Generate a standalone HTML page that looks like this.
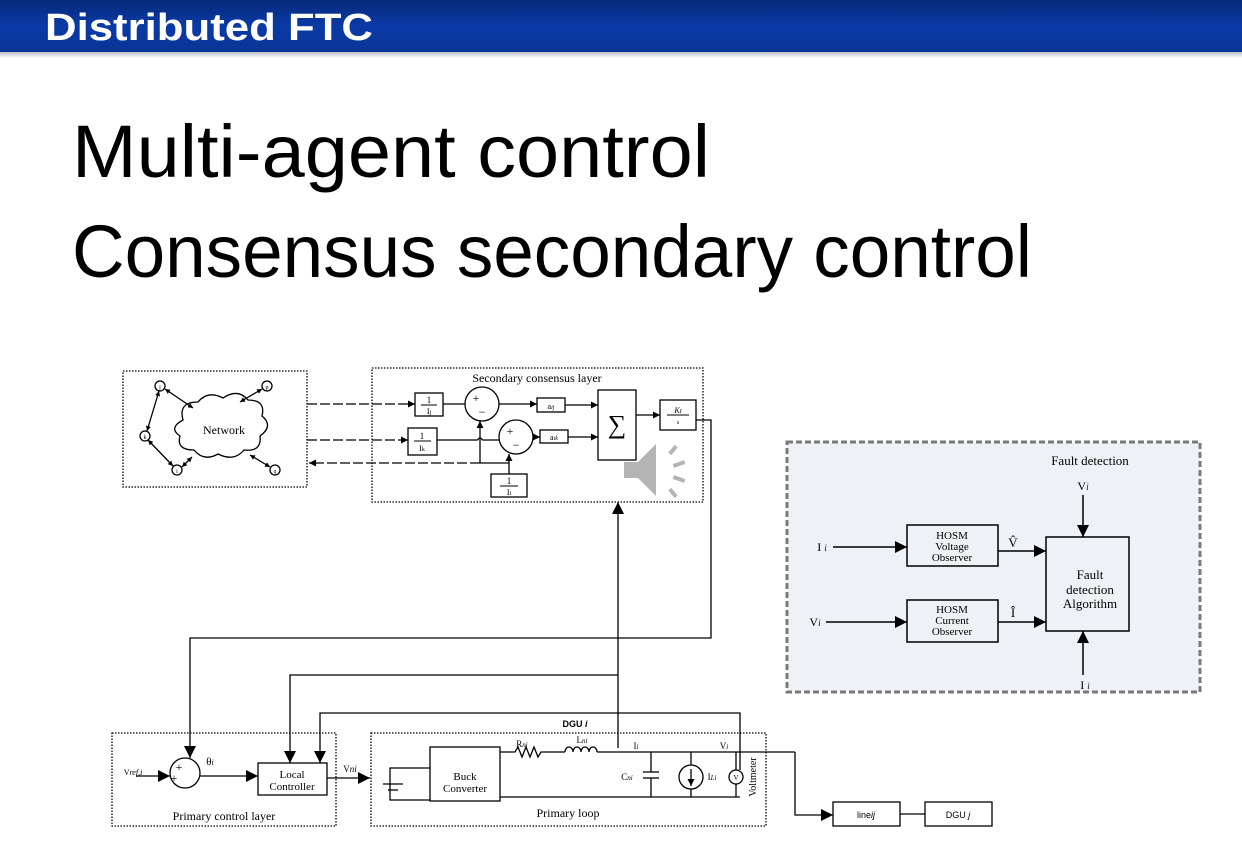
<!DOCTYPE html>
<html><head><meta charset="utf-8"><style>
html,body{margin:0;padding:0;background:#fff;}
svg{display:block;}
</style></head><body>
<svg width="1242" height="856" viewBox="0 0 1242 856" xmlns="http://www.w3.org/2000/svg" font-family="Liberation Serif, serif">
<defs>
<linearGradient id="bar" x1="0" y1="0" x2="0" y2="1">
<stop offset="0" stop-color="#062a7a"/><stop offset="0.5" stop-color="#0a3aa6"/><stop offset="1" stop-color="#0a3596"/>
</linearGradient>
<linearGradient id="sh" x1="0" y1="0" x2="0" y2="1">
<stop offset="0" stop-color="#b8bcc4"/><stop offset="1" stop-color="#ffffff"/>
</linearGradient>
<marker id="a" viewBox="0 0 10 10" refX="10" refY="5" markerWidth="7" markerHeight="7" orient="auto" markerUnits="userSpaceOnUse"><path d="M0,0 L10,5 L0,10 z" fill="#000"/></marker>
<marker id="b" viewBox="0 0 10 10" refX="10" refY="5" markerWidth="14" markerHeight="12" orient="auto" markerUnits="userSpaceOnUse"><path d="M0,0 L10,5 L0,10 z" fill="#000"/></marker>
<marker id="s" viewBox="0 0 10 10" refX="10" refY="5" markerWidth="5" markerHeight="5" orient="auto-start-reverse" markerUnits="userSpaceOnUse"><path d="M0,0 L10,5 L0,10 z" fill="#000"/></marker>
</defs>
<rect x="0" y="0" width="1242" height="52" fill="url(#bar)"/>
<rect x="0" y="52" width="1242" height="6" fill="url(#sh)"/>
<text x="45" y="40" font-family="Liberation Sans, sans-serif" font-weight="bold" font-size="38" fill="#fff" textLength="328" lengthAdjust="spacingAndGlyphs">Distributed FTC</text>
<g font-family="Liberation Sans, sans-serif" font-size="74" fill="#000">
<text x="72" y="177" textLength="638" lengthAdjust="spacingAndGlyphs">Multi-agent control</text>
<text x="72" y="277" textLength="960" lengthAdjust="spacingAndGlyphs">Consensus secondary control</text>
</g>

<g fill="none" stroke="#000" stroke-width="1.3">
<!-- network box -->
<rect x="123" y="371" width="184" height="116" stroke-dasharray="1.5,1.5"/>
<path d="M183,420 q-5,-18 15,-18 q10,-12 25,-4 q15,-10 25,2 q18,0 14,16 q12,10 -2,20 q2,16 -16,14 q-10,12 -26,4 q-14,8 -24,-4 q-18,0 -14,-14 q-12,-8 3,-16z"/>
<circle cx="160" cy="386" r="5"/><circle cx="267" cy="386" r="5"/><circle cx="145" cy="436" r="5"/><circle cx="177" cy="470" r="5"/><circle cx="275" cy="470" r="5"/>
<line x1="159" y1="391" x2="147" y2="431" marker-start="url(#s)" marker-end="url(#s)"/>
<line x1="148" y1="440" x2="173" y2="466" marker-start="url(#s)" marker-end="url(#s)"/>
<line x1="165" y1="389" x2="193" y2="408" marker-start="url(#s)" marker-end="url(#s)"/>
<line x1="262" y1="389" x2="240" y2="402" marker-start="url(#s)" marker-end="url(#s)"/>
<line x1="182" y1="467" x2="192" y2="457" marker-start="url(#s)" marker-end="url(#s)"/>
<line x1="250" y1="455" x2="270" y2="467" marker-start="url(#s)" marker-end="url(#s)"/>
<!-- secondary box -->
<rect x="372" y="368" width="331" height="134" stroke-dasharray="1.5,1.5"/>
<line x1="307" y1="404" x2="415" y2="404" stroke-dasharray="10,3" marker-end="url(#a)"/>
<line x1="307" y1="440" x2="408" y2="440" stroke-dasharray="10,3" marker-end="url(#a)"/>
<line x1="480" y1="463" x2="309" y2="463" stroke-dasharray="10,3" marker-end="url(#a)"/>
<rect x="415" y="393" width="28" height="23"/>
<rect x="408" y="428" width="29" height="27"/>
<rect x="491" y="474" width="36" height="23"/>
<circle cx="482" cy="404" r="17"/><circle cx="516" cy="437" r="17"/>
<rect x="537" y="398" width="28" height="14"/><rect x="540" y="430" width="28" height="13"/>
<rect x="598" y="390" width="38" height="70"/>
<rect x="660" y="400" width="36" height="30"/>
<line x1="443" y1="404" x2="465" y2="404"/>
<line x1="437" y1="440" x2="478" y2="440"/><path d="M478,440 a2,2 0 0 1 4,0"/><line x1="482" y1="440" x2="499" y2="440"/>
<line x1="480" y1="463" x2="480" y2="421" marker-end="url(#a)"/>
<line x1="509" y1="474" x2="509" y2="454" marker-end="url(#a)"/>
<line x1="480" y1="463" x2="509" y2="463"/>
<line x1="499" y1="404" x2="537" y2="404" marker-end="url(#a)"/>
<line x1="533" y1="437" x2="540" y2="437" marker-end="url(#a)"/>
<line x1="565" y1="405" x2="598" y2="405" marker-end="url(#a)"/>
<line x1="568" y1="437" x2="598" y2="437" marker-end="url(#a)"/>
<line x1="636" y1="415" x2="660" y2="415" marker-end="url(#a)"/>
<polyline points="696,420 711,420 711,638 190,638 190,758" marker-end="url(#b)"/>
<line x1="618" y1="748" x2="618" y2="502" marker-end="url(#b)"/>
<polyline points="618,675 290,675 290,763" marker-end="url(#b)"/>
<polyline points="740,770 740,713 320,713 320,763" marker-end="url(#b)"/>
<!-- primary control -->
<rect x="112" y="733" width="224" height="93" stroke-dasharray="1.5,1.5"/>
<circle cx="185" cy="773" r="15"/>
<line x1="136" y1="776" x2="170" y2="776" marker-end="url(#b)"/>
<line x1="200" y1="776" x2="258" y2="776" marker-end="url(#b)"/>
<rect x="258" y="763" width="69" height="32"/>
<line x1="327" y1="778" x2="370" y2="778" marker-end="url(#b)"/>
<!-- primary loop -->
<rect x="371" y="733" width="395" height="93" stroke-dasharray="1.5,1.5"/>
<polyline points="430,768 390,768 390,800 430,800"/>
<line x1="383" y1="784" x2="403" y2="784"/><line x1="388" y1="790" x2="398" y2="790"/>
<rect x="430" y="747" width="70" height="54"/>
<polyline points="500,752 515,752 518,747 522,757 526,747 530,757 534,747 538,757 541,752 565,752"/>
<path d="M565,752 a4,5 0 0 1 8,0 a4,5 0 0 1 8,0 a4,5 0 0 1 8,0 a4,5 0 0 1 8,0"/>
<line x1="597" y1="752" x2="795" y2="752"/>
<line x1="500" y1="797" x2="740" y2="797"/>
<line x1="651" y1="752" x2="651" y2="772"/><line x1="643" y1="772" x2="659" y2="772"/><line x1="643" y1="778" x2="659" y2="778"/><line x1="651" y1="778" x2="651" y2="797"/>
<line x1="691" y1="752" x2="691" y2="765"/><circle cx="691" cy="777" r="12"/><line x1="691" y1="789" x2="691" y2="797"/>
<line x1="691" y1="769" x2="691" y2="786" marker-end="url(#a)"/>
<line x1="736" y1="752" x2="736" y2="770"/><circle cx="736" cy="777" r="7"/><line x1="736" y1="784" x2="736" y2="797"/>
<polyline points="795,752 795,815 833,815" marker-end="url(#b)"/>
<rect x="833" y="802" width="67" height="24"/>
<line x1="900" y1="814" x2="925" y2="814"/>
<rect x="925" y="802" width="67" height="24"/>
</g>
<g font-size="11" text-anchor="middle">
<text x="537" y="382" font-size="12">Secondary consensus layer</text>
<text x="224" y="434" font-size="12">Network</text>
<text x="160" y="389" font-size="6">j</text><text x="267" y="389" font-size="6">p</text><text x="145" y="439" font-size="6">k</text><text x="177" y="473" font-size="6">i</text><text x="275" y="473" font-size="6">q</text>
<text x="429" y="403" font-size="9">1</text><line x1="421" y1="405" x2="437" y2="405" stroke="#000"/><text x="429" y="414" font-size="8">I<tspan font-size="6">j</tspan></text>
<text x="422" y="439" font-size="9">1</text><line x1="414" y1="441" x2="431" y2="441" stroke="#000"/><text x="422" y="451" font-size="8">I<tspan font-size="6">k</tspan></text>
<text x="509" y="484" font-size="9">1</text><line x1="500" y1="486" x2="518" y2="486" stroke="#000"/><text x="509" y="495" font-size="8">I<tspan font-size="6">i</tspan></text>
<text x="476" y="402" font-size="12">+</text><text x="482" y="416" font-size="12">−</text>
<text x="510" y="435" font-size="12">+</text><text x="516" y="449" font-size="12">−</text>
<text x="551" y="409" font-size="8">a<tspan font-style="italic" font-size="6">ij</tspan></text>
<text x="554" y="440" font-size="8">a<tspan font-style="italic" font-size="6">ik</tspan></text>
<text x="617" y="433" font-size="26">∑</text>
<text x="678" y="413" font-size="8" font-style="italic">K<tspan font-size="6">I</tspan></text><line x1="667" y1="415" x2="689" y2="415" stroke="#000"/><text x="678" y="424" font-size="6">s</text>
<text x="179" y="771" font-size="12">+</text><text x="174" y="782" font-size="12">+</text>
<text x="210" y="765">θ<tspan font-size="8" font-style="italic">i</tspan></text>
<text x="133" y="775" font-size="8">V<tspan font-style="italic">ref,i</tspan></text>
<text x="292" y="778">Local</text><text x="292" y="790">Controller</text>
<text x="350" y="772" font-size="9">V<tspan font-style="italic">ni</tspan></text>
<text x="224" y="820" font-size="12">Primary control layer</text>
<text x="465" y="780">Buck</text><text x="465" y="792">Converter</text>
<text x="575" y="727" font-family="Liberation Sans, sans-serif" font-size="9" font-weight="bold">DGU <tspan font-style="italic">i</tspan></text>
<text x="522" y="747" font-size="9">R<tspan font-style="italic" font-size="7">ni</tspan></text>
<text x="582" y="743" font-size="9">L<tspan font-style="italic" font-size="7">ni</tspan></text>
<text x="636" y="749" font-size="9">I<tspan font-style="italic" font-size="7">i</tspan></text>
<text x="724" y="749" font-size="9">V<tspan font-style="italic" font-size="7">i</tspan></text>
<text x="627" y="780" font-size="9">C<tspan font-style="italic" font-size="7">ni</tspan></text>
<text x="712" y="780" font-size="9">I<tspan font-style="italic" font-size="7">Li</tspan></text>
<text x="736" y="780" font-size="7">V</text>
<text x="0" y="0" font-size="10" transform="translate(756,777) rotate(-90)">Voltmeter</text>
<text x="568" y="817" font-size="12">Primary loop</text>
<text x="866" y="818" font-family="Liberation Sans, sans-serif" font-size="9">line<tspan font-style="italic">ij</tspan></text>
<text x="958" y="818" font-family="Liberation Sans, sans-serif" font-size="9">DGU <tspan font-style="italic">j</tspan></text>
</g>
<!-- speaker icon -->
<g fill="#b4b4b4" stroke="none">
<path d="M624,462 h14 l18,-18 v52 l-18,-18 h-14z"/>
<rect x="668" y="448" width="10" height="4" transform="rotate(-50 673 450)"/>
<rect x="673" y="462" width="12" height="4" transform="rotate(-20 679 464)"/>
<rect x="673" y="477" width="12" height="4" transform="rotate(20 679 479)"/>
<rect x="668" y="491" width="10" height="4" transform="rotate(50 673 493)"/>
</g>
<!-- fault detection -->
<rect x="787" y="442" width="413" height="250" fill="#eef2f6" stroke="#7a7a7a" stroke-width="3" stroke-dasharray="6,3"/>
<g fill="none" stroke="#000" stroke-width="1.5">
<rect x="907" y="525" width="91" height="41"/>
<rect x="907" y="600" width="91" height="42"/>
<rect x="1046" y="537" width="83" height="94"/>
<line x1="1083" y1="495" x2="1083" y2="537" marker-end="url(#b)"/>
<line x1="1083" y1="675" x2="1083" y2="631" marker-end="url(#b)"/>
<line x1="833" y1="547" x2="907" y2="547" marker-end="url(#b)"/>
<line x1="826" y1="622" x2="907" y2="622" marker-end="url(#b)"/>
<line x1="998" y1="551" x2="1046" y2="551" marker-end="url(#b)"/>
<line x1="998" y1="622" x2="1046" y2="622" marker-end="url(#b)"/>
</g>
<g font-size="12" text-anchor="middle">
<text x="1090" y="465" font-size="13">Fault detection</text>
<text x="1083" y="490" font-size="12">V<tspan font-size="9" font-style="italic">i</tspan></text>
<text x="822" y="551">I <tspan font-size="9" font-style="italic">i</tspan></text>
<text x="815" y="626">V<tspan font-size="9" font-style="italic">i</tspan></text>
<text x="1085" y="689">I <tspan font-size="9" font-style="italic">i</tspan></text>
<text x="952" y="539" font-size="11">HOSM</text><text x="952" y="550" font-size="11">Voltage</text><text x="952" y="561" font-size="11">Observer</text>
<text x="952" y="613" font-size="11">HOSM</text><text x="952" y="624" font-size="11">Current</text><text x="952" y="635" font-size="11">Observer</text>
<text x="1013" y="547" font-size="13">V̂</text>
<text x="1013" y="617" font-size="13">Î</text>
<text x="1090" y="579" font-size="13">Fault</text><text x="1090" y="594" font-size="13">detection</text><text x="1090" y="608" font-size="13">Algorithm</text>
</g>
</svg>
</body></html>
